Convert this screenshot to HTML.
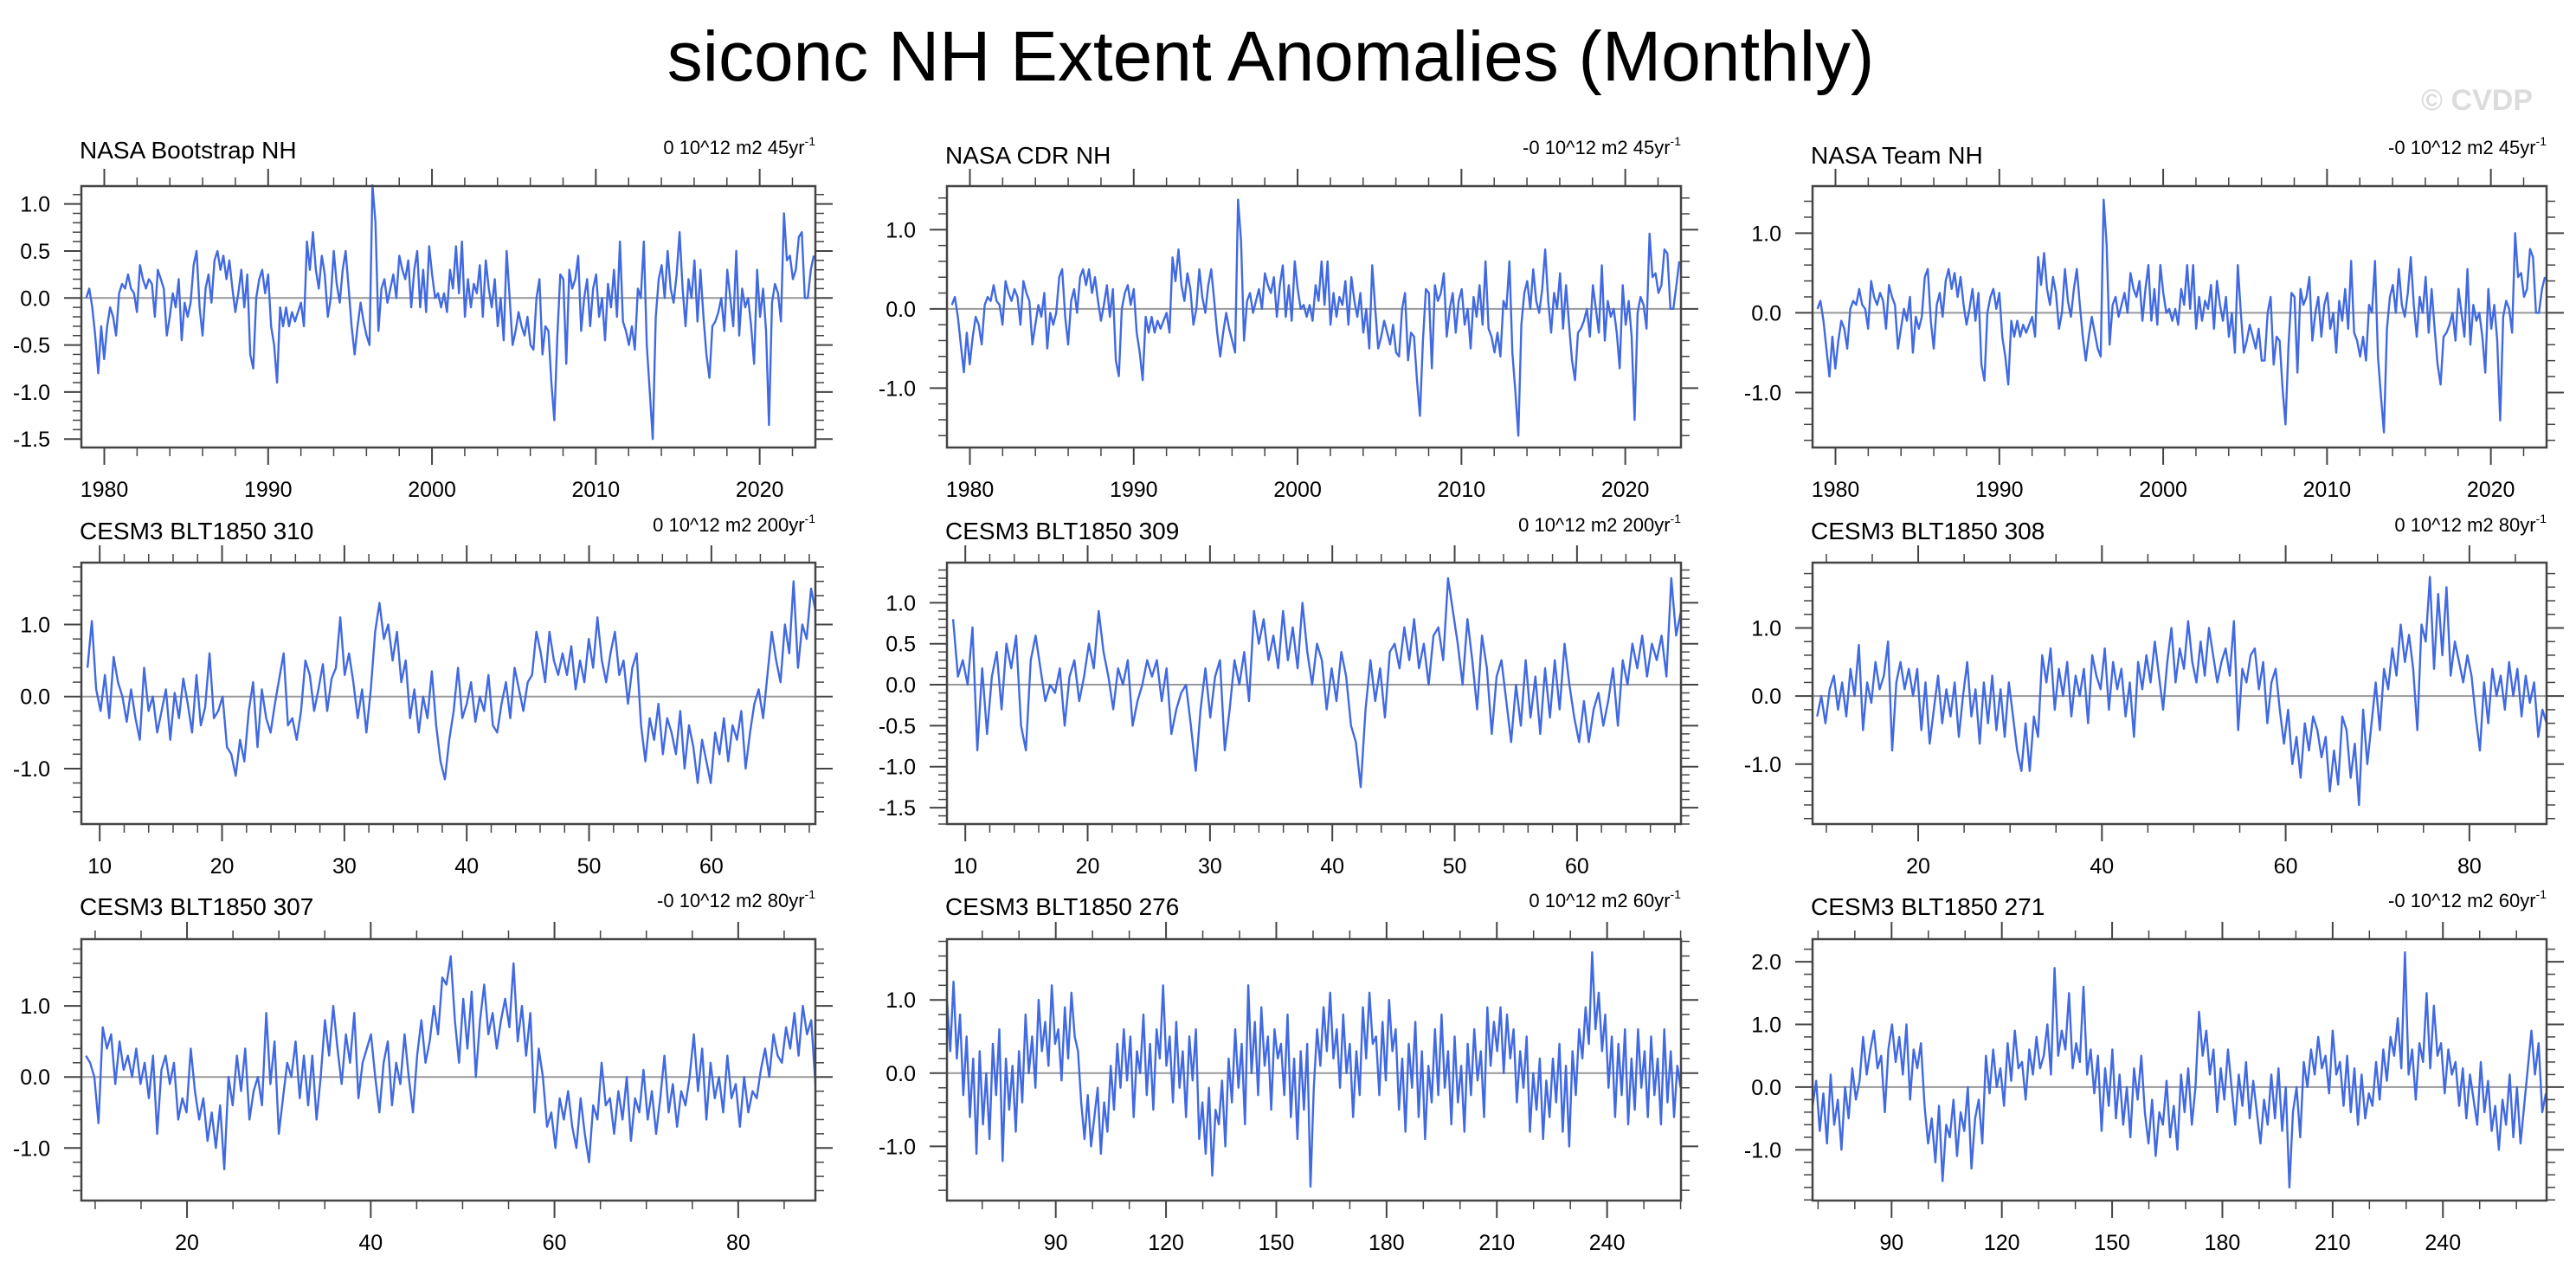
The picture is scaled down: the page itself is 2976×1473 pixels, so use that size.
<!DOCTYPE html>
<html><head><meta charset="utf-8">
<style>
html,body{margin:0;padding:0;background:#fff;}
svg{display:block;font-family:"Liberation Sans",Arial,sans-serif;}
</style></head>
<body>
<svg id="fig" width="2976" height="1473" viewBox="0 0 2976 1473" xmlns="http://www.w3.org/2000/svg">
<rect x="0" y="0" width="2976" height="1473" fill="#fff"/>
<text x="1468" y="93" font-size="82" text-anchor="middle" fill="#000">siconc NH Extent Anomalies (Monthly)</text>
<text x="2926" y="127" font-size="34" font-weight="bold" text-anchor="end" fill="#dcdcdc">© CVDP</text>
<g id="panels"></g>
</svg>
<script>
// ---- data arrays ----
const bootstrapVals=[0.0,0.1,-0.1,-0.4,-0.8,-0.3,-0.65,-0.3,-0.1,-0.2,-0.4,0.05,0.15,0.1,0.25,0.1,0.05,-0.15,0.35,0.2,0.1,0.2,0.15,-0.2,0.3,0.2,0.1,-0.4,-0.2,0.05,-0.1,0.2,-0.45,-0.05,-0.2,-0.05,0.35,0.5,-0.1,-0.4,0.1,0.25,-0.05,0.4,0.5,0.3,0.45,0.2,0.4,0.1,-0.15,0.05,0.3,-0.1,0.25,-0.6,-0.75,0.0,0.2,0.3,0.05,0.25,-0.3,-0.5,-0.9,-0.1,-0.3,-0.1,-0.3,-0.15,-0.25,-0.15,-0.05,-0.3,0.6,0.3,0.7,0.3,0.1,0.45,0.25,-0.2,0.0,0.5,0.15,-0.05,0.3,0.5,0.1,-0.3,-0.6,-0.3,-0.05,-0.25,-0.4,-0.5,1.2,0.8,-0.35,0.1,0.2,-0.05,0.1,0.25,0.0,0.45,0.3,0.2,0.4,-0.1,0.3,0.5,-0.1,0.3,-0.15,0.55,0.25,0.0,0.05,-0.1,0.05,-0.15,0.3,0.1,0.55,0.05,0.6,-0.2,0.2,-0.1,0.15,0.05,0.35,-0.2,0.4,0.1,-0.1,0.2,-0.3,0.0,-0.45,0.5,0.0,-0.5,-0.35,-0.15,-0.3,-0.4,-0.2,-0.5,-0.55,0.0,0.2,-0.6,-0.3,-0.35,-0.9,-1.3,-0.4,0.25,0.2,-0.7,0.3,0.1,0.2,0.45,-0.35,0.0,0.2,-0.3,0.1,0.25,-0.2,0.0,-0.45,0.15,-0.1,0.3,-0.2,0.6,-0.25,-0.35,-0.5,-0.3,-0.55,0.1,0.0,0.6,-0.5,-1.0,-1.5,-0.2,0.2,0.35,0.0,0.5,0.1,-0.05,0.25,0.7,0.1,-0.3,0.2,0.0,0.4,-0.25,0.3,-0.2,-0.6,-0.85,-0.3,-0.25,-0.15,0.0,-0.35,0.3,0.0,-0.3,0.5,-0.4,0.1,-0.1,0.0,-0.3,-0.7,0.3,-0.2,0.1,-0.35,-1.35,-0.05,0.15,0.05,-0.25,0.9,0.4,0.45,0.2,0.3,0.65,0.7,0.0,0.0,0.3,0.45];
const cdrVals=[0.05,0.15,-0.1,-0.45,-0.8,-0.3,-0.7,-0.35,-0.1,-0.2,-0.45,0.05,0.15,0.1,0.3,0.1,0.05,-0.2,0.35,0.2,0.1,0.25,0.15,-0.2,0.35,0.2,0.1,-0.45,-0.2,0.05,-0.1,0.2,-0.5,-0.05,-0.2,-0.05,0.4,0.5,-0.1,-0.45,0.1,0.25,-0.05,0.4,0.5,0.3,0.5,0.2,0.4,0.1,-0.15,0.05,0.3,-0.1,0.25,-0.65,-0.85,0.0,0.2,0.3,0.05,0.25,-0.3,-0.55,-0.9,-0.1,-0.3,-0.1,-0.3,-0.15,-0.25,-0.15,-0.05,-0.3,0.65,0.35,0.75,0.3,0.1,0.45,0.25,-0.2,0.0,0.5,0.15,-0.05,0.3,0.5,0.1,-0.3,-0.6,-0.3,-0.05,-0.25,-0.4,-0.55,1.38,0.85,-0.4,0.1,0.2,-0.05,0.1,0.25,0.0,0.45,0.3,0.2,0.4,-0.1,0.3,0.55,-0.1,0.3,-0.15,0.6,0.25,0.0,0.05,-0.1,0.05,-0.15,0.3,0.1,0.6,0.05,0.6,-0.2,0.2,-0.1,0.15,0.05,0.35,-0.2,0.4,0.1,-0.1,0.2,-0.3,0.0,-0.5,0.55,0.0,-0.5,-0.35,-0.15,-0.3,-0.45,-0.2,-0.55,-0.6,0.0,0.2,-0.65,-0.3,-0.35,-0.9,-1.35,-0.4,0.25,0.2,-0.75,0.3,0.1,0.2,0.45,-0.35,0.0,0.2,-0.3,0.1,0.25,-0.2,0.0,-0.5,0.15,-0.1,0.3,-0.2,0.6,-0.25,-0.35,-0.55,-0.3,-0.6,0.1,0.0,0.6,-0.55,-1.05,-1.6,-0.2,0.2,0.35,0.0,0.5,0.1,-0.05,0.25,0.75,0.1,-0.3,0.2,0.0,0.45,-0.25,0.3,-0.2,-0.65,-0.9,-0.3,-0.25,-0.15,0.0,-0.35,0.3,0.0,-0.3,0.55,-0.4,0.1,-0.1,0.0,-0.3,-0.75,0.3,-0.2,0.1,-0.35,-1.4,-0.05,0.15,0.05,-0.25,0.95,0.4,0.45,0.2,0.3,0.75,0.7,0.0,0.0,0.3,0.6];
const teamVals=[0.05,0.15,-0.1,-0.45,-0.8,-0.3,-0.7,-0.35,-0.1,-0.2,-0.45,0.05,0.15,0.1,0.3,0.1,0.05,-0.2,0.4,0.2,0.1,0.25,0.15,-0.2,0.35,0.2,0.1,-0.45,-0.2,0.05,-0.1,0.2,-0.5,-0.05,-0.2,-0.05,0.45,0.55,-0.1,-0.45,0.1,0.25,-0.05,0.4,0.55,0.3,0.5,0.2,0.45,0.1,-0.15,0.05,0.3,-0.1,0.25,-0.65,-0.85,0.0,0.2,0.3,0.05,0.25,-0.3,-0.55,-0.9,-0.1,-0.3,-0.1,-0.3,-0.15,-0.25,-0.15,-0.05,-0.3,0.7,0.35,0.75,0.3,0.1,0.45,0.25,-0.2,0.0,0.55,0.15,-0.05,0.3,0.55,0.1,-0.3,-0.6,-0.3,-0.05,-0.25,-0.45,-0.55,1.42,0.85,-0.4,0.1,0.2,-0.05,0.1,0.25,0.0,0.5,0.3,0.2,0.4,-0.1,0.3,0.6,-0.1,0.3,-0.15,0.6,0.25,0.0,0.05,-0.1,0.05,-0.15,0.3,0.1,0.6,0.05,0.6,-0.2,0.2,-0.1,0.15,0.05,0.35,-0.2,0.4,0.1,-0.1,0.2,-0.3,0.0,-0.5,0.6,0.0,-0.5,-0.35,-0.15,-0.3,-0.45,-0.2,-0.6,-0.6,0.0,0.2,-0.65,-0.3,-0.35,-0.95,-1.4,-0.4,0.25,0.2,-0.75,0.3,0.1,0.2,0.45,-0.35,0.0,0.2,-0.3,0.1,0.25,-0.2,0.0,-0.5,0.15,-0.1,0.3,-0.2,0.65,-0.25,-0.35,-0.55,-0.3,-0.6,0.1,0.0,0.65,-0.55,-1.05,-1.5,-0.2,0.2,0.35,0.0,0.55,0.1,-0.05,0.25,0.7,0.1,-0.3,0.2,0.0,0.45,-0.25,0.3,-0.2,-0.65,-0.9,-0.3,-0.25,-0.15,0.0,-0.35,0.3,0.0,-0.3,0.55,-0.4,0.1,-0.1,0.0,-0.3,-0.75,0.3,-0.2,0.1,-0.35,-1.35,-0.05,0.15,0.05,-0.25,1.0,0.45,0.5,0.2,0.3,0.8,0.7,0.0,0.0,0.3,0.45];
const run310Vals=[0.4,1.05,0.1,-0.2,0.3,-0.3,0.55,0.2,0.0,-0.35,0.1,-0.3,-0.6,0.4,-0.2,0.0,-0.5,-0.2,0.1,-0.6,0.05,-0.3,0.25,-0.1,-0.5,0.3,-0.4,-0.15,0.6,-0.3,-0.2,0.0,-0.7,-0.8,-1.1,-0.6,-0.9,-0.2,0.2,-0.7,0.1,-0.3,-0.5,-0.1,0.25,0.6,-0.4,-0.3,-0.6,-0.2,0.5,0.3,-0.2,0.1,0.45,-0.2,0.25,0.4,1.1,0.3,0.6,0.2,-0.3,0.1,-0.5,0.1,0.9,1.3,0.8,1.0,0.5,0.9,0.2,0.5,-0.3,0.1,-0.5,0.0,-0.3,0.35,-0.4,-0.9,-1.15,-0.6,-0.2,0.4,-0.3,-0.1,0.2,-0.35,0.0,-0.2,0.3,-0.4,-0.5,-0.1,0.2,-0.3,0.4,0.1,-0.2,0.2,0.3,0.9,0.6,0.2,0.9,0.5,0.3,0.6,0.3,0.7,0.1,0.5,0.2,0.8,0.4,1.1,0.5,0.2,0.6,0.9,0.3,0.5,-0.1,0.4,0.6,-0.4,-0.9,-0.3,-0.6,-0.1,-0.8,-0.3,-0.5,-0.8,-0.2,-1.0,-0.4,-0.7,-1.2,-0.6,-0.9,-1.2,-0.5,-0.8,-0.3,-0.9,-0.4,-0.6,-0.2,-1.0,-0.5,-0.1,0.1,-0.3,0.3,0.9,0.5,0.2,1.0,0.6,1.6,0.4,1.0,0.8,1.5,1.2];
const run309Vals=[0.8,0.1,0.3,0.0,0.7,-0.8,0.2,-0.6,0.1,0.4,-0.3,0.5,0.2,0.6,-0.5,-0.8,0.3,0.6,0.2,-0.2,0.0,-0.1,0.2,-0.5,0.1,0.3,-0.2,0.1,0.5,0.2,0.9,0.4,0.1,-0.3,0.2,0.0,0.3,-0.5,-0.2,0.0,0.3,0.1,0.3,-0.2,0.2,-0.6,-0.3,-0.1,0.0,-0.5,-1.05,-0.3,0.2,-0.4,0.1,0.3,-0.8,-0.3,0.3,0.0,0.4,-0.2,0.9,0.5,0.8,0.3,0.6,0.2,0.9,0.3,0.7,0.2,1.0,0.4,0.0,0.5,0.3,-0.3,0.2,-0.2,0.4,0.1,-0.5,-0.7,-1.25,-0.3,0.3,-0.2,0.2,-0.4,0.4,0.5,0.2,0.7,0.3,0.8,0.2,0.5,0.0,0.6,0.7,0.3,1.3,0.9,0.5,0.0,0.8,0.3,-0.3,0.6,0.2,-0.6,0.1,0.3,-0.2,-0.7,0.0,-0.5,0.3,-0.4,0.1,-0.6,0.2,-0.4,0.3,-0.3,0.5,0.0,-0.4,-0.7,-0.2,-0.7,-0.3,-0.1,-0.5,-0.2,0.2,-0.5,0.3,0.0,0.5,0.2,0.6,0.1,0.5,0.3,0.6,0.1,1.3,0.6,0.9];
const run308Vals=[-0.3,0.0,-0.4,0.1,0.3,-0.2,0.2,-0.3,0.4,0.0,0.75,-0.5,0.2,-0.1,0.5,0.1,0.3,0.8,-0.8,0.2,0.5,0.1,0.4,0.0,0.4,-0.5,0.2,-0.7,-0.2,0.3,-0.4,0.1,-0.3,0.2,-0.6,0.0,0.5,-0.3,0.1,-0.7,0.2,-0.4,0.3,-0.5,0.1,-0.6,0.2,-0.3,-0.8,-1.1,-0.4,-1.1,-0.3,-0.6,0.6,0.2,0.7,-0.2,0.4,0.0,0.5,-0.3,0.3,0.0,0.4,-0.4,0.6,0.3,0.1,0.7,-0.2,0.5,0.1,0.4,-0.3,0.2,-0.6,0.5,0.1,0.6,0.2,0.8,0.3,-0.2,0.5,1.0,0.2,0.7,0.4,1.1,0.5,0.2,0.8,0.3,1.0,0.6,0.2,0.5,0.7,0.3,1.1,-0.5,0.4,0.2,0.6,0.7,0.1,0.5,-0.4,0.2,0.4,-0.2,-0.7,-0.2,-1.0,-0.6,-1.2,-0.4,-0.8,-0.3,-0.5,-0.9,-0.6,-1.4,-0.8,-1.3,-0.3,-0.5,-1.2,-0.7,-1.6,-0.2,-1.0,-0.4,0.2,-0.5,0.4,0.1,0.7,0.3,1.05,0.5,0.9,0.4,-0.5,1.05,0.8,1.75,0.4,1.5,0.6,1.6,0.3,0.8,0.5,0.2,0.6,0.3,-0.3,-0.8,0.2,-0.4,0.4,0.0,0.3,-0.2,0.5,0.0,0.4,-0.3,0.3,-0.1,0.2,-0.6,-0.2,-0.4];
const run307Vals=[0.3,0.2,0.0,-0.65,0.7,0.4,0.6,-0.1,0.5,0.1,0.3,0.0,0.4,-0.1,0.2,-0.3,0.3,-0.8,0.1,0.3,-0.1,0.2,-0.6,-0.3,-0.5,0.4,-0.2,-0.6,-0.3,-0.9,-0.5,-1.0,-0.4,-1.3,0.0,-0.4,0.3,-0.2,0.4,-0.6,-0.2,0.0,-0.4,0.9,-0.1,0.5,-0.8,-0.3,0.2,0.0,0.5,-0.3,0.3,-0.4,0.3,-0.6,0.0,0.8,0.3,1.0,0.4,-0.1,0.6,0.2,0.9,-0.3,0.2,0.4,0.6,0.0,-0.5,0.2,0.5,-0.4,0.2,-0.1,0.6,0.0,-0.5,0.3,0.8,0.2,0.5,1.0,0.6,1.4,1.3,1.7,0.8,0.2,1.1,0.4,1.2,0.0,0.8,1.3,0.6,0.9,0.4,0.8,1.1,0.7,1.6,0.5,1.0,0.3,0.9,-0.5,0.4,0.0,-0.7,-0.5,-1.0,-0.3,-0.6,-0.2,-0.7,-1.0,-0.3,-0.8,-1.2,-0.4,-0.6,0.2,-0.4,-0.3,-0.8,-0.2,-0.6,0.0,-0.9,-0.3,-0.5,0.1,-0.6,-0.2,-0.8,-0.3,0.3,-0.5,-0.1,-0.7,-0.2,-0.4,0.0,0.6,-0.2,0.4,-0.6,0.2,-0.3,0.0,-0.5,0.3,-0.3,-0.1,-0.7,0.0,-0.5,-0.2,-0.3,0.1,0.4,0.0,0.6,0.3,0.2,0.7,0.4,0.9,0.3,1.0,0.6,0.8,-0.1];
const run276Vals=[1.0,0.3,1.25,0.2,0.8,-0.3,0.5,-0.6,0.2,-1.1,0.3,-0.7,0.0,-0.9,0.4,-0.3,0.6,-1.2,0.2,-0.5,0.1,-0.8,0.3,-0.4,0.8,0.0,0.5,-0.2,1.0,0.3,0.7,0.1,1.2,0.4,0.6,-0.1,0.9,0.2,1.1,0.5,0.3,-0.4,-0.9,-0.3,-1.0,-0.6,-0.2,-1.1,-0.4,-0.8,0.1,-0.5,0.4,-0.2,0.6,-0.1,0.5,-0.6,0.3,0.0,0.8,-0.3,0.4,-0.5,0.6,0.2,1.2,0.1,0.5,-0.4,0.7,-0.2,0.3,-0.6,0.5,-0.1,0.6,-0.9,-0.4,-1.1,-0.2,-1.4,-0.5,-0.7,-0.1,-1.0,0.2,-0.4,0.6,-0.2,0.4,-0.7,1.2,0.0,0.7,-0.3,0.9,0.1,0.5,-0.5,0.6,0.2,0.4,-0.3,0.8,-0.6,0.2,-0.9,0.3,-0.5,0.4,-1.55,-0.2,0.6,0.1,0.9,0.3,1.1,0.2,0.6,-0.2,0.8,0.0,0.4,-0.6,0.3,-0.3,0.9,0.2,1.1,0.4,0.5,-0.3,0.7,-0.1,1.0,0.3,0.6,-0.5,0.2,-0.8,0.4,-0.2,0.7,-0.6,0.3,-0.9,0.1,-0.4,0.6,-0.3,0.8,-0.2,0.3,-0.7,0.5,-0.4,0.1,-0.8,0.4,-0.3,0.6,-0.1,0.3,-0.6,0.9,0.1,0.7,0.3,0.9,0.0,0.8,0.2,0.6,-0.4,0.3,-0.2,0.5,-0.8,0.0,-0.5,0.2,-0.9,-0.1,-0.6,0.2,-0.4,0.4,-0.8,0.1,-1.0,0.3,-0.3,0.6,0.2,0.9,0.4,1.65,0.6,1.1,0.3,0.8,-0.2,0.5,-0.6,0.4,-0.3,0.6,-0.7,0.2,-0.5,0.6,-0.2,0.3,-0.6,0.5,-0.3,0.2,-0.7,0.6,-0.4,0.3,-0.6,0.1,-0.2];
const run271Vals=[-0.3,0.1,-0.7,-0.1,-0.9,0.2,-0.6,-0.2,-1.0,0.0,-0.5,0.3,-0.2,0.1,0.8,0.2,0.6,0.9,0.3,0.5,-0.4,0.6,1.0,0.4,0.8,0.2,1.0,-0.2,0.6,0.3,0.7,-0.3,-0.9,-0.5,-1.2,-0.3,-1.5,-0.6,-0.8,-0.2,-1.1,-0.4,-0.7,0.0,-1.3,-0.5,-0.2,-0.9,0.5,-0.1,0.6,0.0,0.3,-0.3,0.7,0.1,0.9,0.3,0.4,-0.2,0.6,0.2,0.8,0.3,0.5,1.0,0.2,1.9,0.5,0.9,0.6,1.5,0.3,0.7,0.4,1.6,0.2,0.6,-0.1,0.5,-0.7,0.3,-0.3,0.6,-0.5,0.2,-0.6,0.0,-0.8,0.3,-0.2,0.5,-0.4,-0.9,-0.2,-1.1,-0.4,-0.6,0.1,-0.8,-0.3,-1.0,0.2,-0.4,0.3,-0.6,0.0,1.2,0.5,0.9,0.2,0.6,-0.4,0.3,-0.2,0.6,0.0,-0.6,0.2,-0.3,0.4,-0.5,0.1,-0.4,-0.9,-0.2,-0.6,0.2,-0.5,0.3,-0.7,0.0,-1.6,-0.4,0.0,-0.8,0.4,0.0,0.6,0.2,0.8,0.3,0.5,-0.1,0.9,0.2,0.4,-0.3,0.5,-0.4,0.3,-0.6,0.2,-0.5,-0.1,-0.3,0.4,-0.2,0.6,0.1,0.8,0.5,1.1,0.3,2.15,0.2,0.6,-0.2,0.7,0.4,1.5,0.3,1.3,0.5,0.7,-0.1,0.6,0.2,0.4,-0.3,0.3,-0.5,0.2,-0.2,-0.6,0.4,-0.4,0.1,-0.7,-0.3,-1.0,-0.2,-0.6,0.2,-0.8,0.0,-0.9,-0.3,0.3,0.9,0.2,0.7,-0.4,-0.1];

// ---- panel layout ----
const panels=[
 {name:'nasa-bootstrap-nh',title:'NASA Bootstrap NH',right:'0 10^12 m2 45yr',vals:bootstrapVals,t0:1978.9,t1:2023.3,x0:1978.6,x1:2023.4,y0:-1.59,y1:1.19,xMaj:10,xMin:2,xFirst:1980,yMaj:0.5,yMin:0.1,L:94,T:215,ty:183,ry:178},
 {name:'nasa-cdr-nh',title:'NASA CDR NH',right:'-0 10^12 m2 45yr',vals:cdrVals,t0:1978.9,t1:2023.3,x0:1978.6,x1:2023.4,y0:-1.75,y1:1.55,xMaj:10,xMin:2,xFirst:1980,yMaj:1,yMin:0.2,L:1094,T:215,ty:189,ry:178},
 {name:'nasa-team-nh',title:'NASA Team NH',right:'-0 10^12 m2 45yr',vals:teamVals,t0:1978.9,t1:2023.3,x0:1978.6,x1:2023.4,y0:-1.69,y1:1.59,xMaj:10,xMin:2,xFirst:1980,yMaj:1,yMin:0.2,L:2094,T:215,ty:189,ry:178},
 {name:'cesm3-310',title:'CESM3 BLT1850 310',right:'0 10^12 m2 200yr',vals:run310Vals,t0:9.0,t1:68.5,x0:8.5,x1:68.5,y0:-1.77,y1:1.86,xMaj:10,xMin:2,xFirst:10,yMaj:1,yMin:0.2,L:94,T:650,ty:623,ry:614},
 {name:'cesm3-309',title:'CESM3 BLT1850 309',right:'0 10^12 m2 200yr',vals:run309Vals,t0:9.0,t1:68.5,x0:8.5,x1:68.5,y0:-1.70,y1:1.49,xMaj:10,xMin:2,xFirst:10,yMaj:0.5,yMin:0.1,L:1094,T:650,ty:623,ry:614},
 {name:'cesm3-308',title:'CESM3 BLT1850 308',right:'0 10^12 m2 80yr',vals:run308Vals,t0:9.0,t1:88.4,x0:8.5,x1:88.4,y0:-1.88,y1:1.96,xMaj:20,xMin:5,xFirst:20,yMaj:1,yMin:0.2,L:2094,T:650,ty:623,ry:614},
 {name:'cesm3-307',title:'CESM3 BLT1850 307',right:'-0 10^12 m2 80yr',vals:run307Vals,t0:9.0,t1:88.4,x0:8.5,x1:88.4,y0:-1.74,y1:1.94,xMaj:20,xMin:5,xFirst:20,yMaj:1,yMin:0.2,L:94,T:1085,ty:1057,ry:1048},
 {name:'cesm3-276',title:'CESM3 BLT1850 276',right:'0 10^12 m2 60yr',vals:run276Vals,t0:60.4,t1:260,x0:60.4,x1:260.1,y0:-1.74,y1:1.83,xMaj:30,xMin:10,xFirst:90,yMaj:1,yMin:0.2,L:1094,T:1085,ty:1057,ry:1048},
 {name:'cesm3-271',title:'CESM3 BLT1850 271',right:'-0 10^12 m2 60yr',vals:run271Vals,t0:68.5,t1:268,x0:68.5,x1:268.2,y0:-1.81,y1:2.36,xMaj:30,xMin:10,xFirst:90,yMaj:1,yMin:0.2,L:2094,T:1085,ty:1057,ry:1048}
];
const W=848,H=302,NS='http://www.w3.org/2000/svg';
const root=document.getElementById('panels');
function mk(tag,attrs,parent){const e=document.createElementNS(NS,tag);for(const k in attrs)e.setAttribute(k,attrs[k]);parent.appendChild(e);return e;}
function fmt(v){return (Math.abs(v)<1e-9?0:v).toFixed(1);}
panels.forEach(p=>{
  const g=mk('g',{},root);
  
  
  const L=p.L,T=p.T,R=L+W,B=T+H;
  const sx=v=>L+(v-p.x0)/(p.x1-p.x0)*W;
  const sy=v=>B-(v-p.y0)/(p.y1-p.y0)*H;
  const t=mk('text',{x:L-2,y:p.ty,'font-size':28,fill:'#000'},g);t.textContent=p.title;
  
  
  const rt=mk('text',{x:R,y:p.ry,'font-size':22,'text-anchor':'end',fill:'#000'},g);
  
  
  rt.appendChild(document.createTextNode(p.right));
  const sup=mk('tspan',{'font-size':14,dy:-10},rt);sup.textContent='-1';
  const z=mk('line',{x1:L,x2:R,y1:sy(0),y2:sy(0),stroke:'#999','stroke-width':2},g);
  
  
  const n=p.vals.length;
  const pts=p.vals.map((v,i)=>sx(p.t0+(p.t1-p.t0)*i/(n-1)).toFixed(1)+','+sy(v).toFixed(1)).join(' ');
  const clipId='c'+p.name;
  const cp=mk('clipPath',{id:clipId},g);mk('rect',{x:L,y:T-3,width:W,height:H+6},cp);
  const line=mk('polyline',{points:pts,fill:'none',stroke:'#4169e1','stroke-width':2.4,'stroke-linejoin':'round','clip-path':'url(#'+clipId+')'},g);
  
  
  const tk=mk('g',{stroke:'#444'},g);
  
  
  const xs=Math.ceil(p.x0/p.xMin)*p.xMin;
  for(let v=xs;v<=p.x1+1e-9;v+=p.xMin){
    const maj=Math.abs(v/p.xMaj-Math.round(v/p.xMaj))<1e-6;const len=maj?20:10;const x=sx(v);
    mk('line',{x1:x,x2:x,y1:B,y2:B+len,'stroke-width':maj?2:1.5},tk);
    mk('line',{x1:x,x2:x,y1:T,y2:T-len,'stroke-width':maj?2:1.5},tk);
    if(maj&&v>=p.xFirst){const lb=mk('text',{x:x,y:B+57,'font-size':25,'text-anchor':'middle',fill:'#000',stroke:'none'},g);lb.textContent=String(Math.round(v));
      
      }
  }
  const ys=Math.ceil((p.y0-1e-9)/p.yMin)*p.yMin;
  for(let v=ys;v<=p.y1+1e-9;v+=p.yMin){
    const maj=Math.abs(v/p.yMaj-Math.round(v/p.yMaj))<1e-6;const len=maj?20:10;const y=sy(v);
    mk('line',{x1:L,x2:L-len,y1:y,y2:y,'stroke-width':maj?2:1.5},tk);
    mk('line',{x1:R,x2:R+len,y1:y,y2:y,'stroke-width':maj?2:1.5},tk);
    if(maj){const lb=mk('text',{x:L-36,y:y+9,'font-size':25,'text-anchor':'end',fill:'#000'},g);lb.textContent=fmt(v);
      
      }
  }
  const box=mk('rect',{x:L,y:T,width:W,height:H,fill:'none',stroke:'#444','stroke-width':2.5},g);
  
  
});
</script>
</body></html>
